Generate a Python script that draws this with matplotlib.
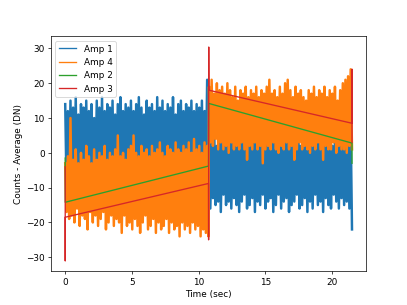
import numpy as np
import matplotlib
matplotlib.use("Agg")
import matplotlib.pyplot as plt

# Sample times for the noisy traces (first and second ramp)
t_first = np.linspace(0.0, 10.74, 110)
t_second = np.linspace(10.78, 21.5, 110)

amp1_first = [14, -10, 12, -8, 15, -11, 13, -9, 16, -12, 11, -10, 14, -7, 13, -11, 15, -9, 12, -12,
              14, -8, 10, -10, 15, -11, 13, -9, 16, -10, 12, -12, 14, -8, 13, -11, 15, -9, 11, -10,
              14, -12, 16, -8, 12, -11, 14, -9, 13, -10, 15, -12, 12, -8, 14, -11, 16, -9, 13, -10,
              11, -12, 15, -8, 13, -11, 14, -9, 12, -10, 16, -12, 13, -8, 15, -11, 12, -9, 14, -10,
              13, -12, 16, -8, 11, -11, 14, -9, 15, -10, 12, -12, 14, -8, 13, -11, 15, -9, 12, -10,
              14, -12, 13, -8, 15, -11, 12, -9, 21, -10]
amp1_second = [5, -16, 3, -13, 6, -15, 2, -14, 4, -17, 3, -12, 5, -15, 2, -14, 4, -16, 3, -13,
               6, -15, 2, -17, 4, -14, 3, -12, 5, -16, 2, -15, 4, -13, 3, -17, 5, -14, 2, -15,
               4, -12, 3, -16, 6, -14, 2, -13, 4, -17, 3, -15, 5, -12, 2, -16, 4, -14, 3, -13,
               5, -17, 2, -15, 4, -14, 3, -12, 6, -16, 2, -15, 4, -13, 3, -17, 5, -14, 2, -16,
               4, -12, 3, -15, 5, -14, 2, -17, 4, -13, 3, -15, 6, -16, 2, -12, 4, -14, 3, -16,
               5, -13, 2, -15, 4, -14, 6, -16, 8, -22]

amp4_first = [-3, -17, -1, -19, 10, -18, -2, -20, 1, -16, -3, -21, 0, -18, -2, -19, 2, -22, -1, -17,
              -3, -20, 1, -18, -2, -21, 0, -19, -1, -17, 2, -22, -2, -20, 0, -18, -1, -21, 1, -19,
              5, -20, -1, -23, 0, -18, -2, -21, 1, -20, 2, -22, 5, -19, 0, -21, -1, -23, 2, -20,
              0, -18, 1, -22, -1, -21, 2, -19, 0, -23, 1, -20, 3, -22, 0, -21, -1, -19, 2, -23,
              1, -20, 0, -22, 3, -21, 1, -24, 0, -20, 2, -22, 1, -21, 3, -23, 0, -20, 4, -22,
              1, -21, 2, -24, 0, -22, 3, -23, 2, -24]
amp4_second = [19, 3, 21, 2, 17, 4, 20, 1, 18, 3, 19, 1, 17, 2, 20, 0, 18, 3, 16, 1,
               19, 2, 15, 1, 18, 3, 17, 1, 19, -2, 16, 2, 18, 1, 17, 3, 19, 1, 16, 2,
               18, -3, 17, 1, 19, 2, 21, 1, 17, 3, 18, 1, 16, 0, 19, 2, 17, 1, 20, 3,
               21, 1, 18, 2, 16, -2, 19, 1, 17, 3, 18, 1, 16, 2, 15, 1, 18, 0, 17, 2,
               19, 1, 16, 3, 18, 1, 17, -2, 19, 2, 16, 1, 18, 1, 17, 3, 19, 0, 15, 2,
               18, 1, 20, 1, 21, 0, 22, 2, 24, 1]

# Amp 2 (green) and Amp 3 (red) ramps with their transients
amp2_t = [0.0, 0.0, 10.74, 10.76, 21.5, 21.5]
amp2_v = [-1.5, -14.2, -3.8, 14.2, 2.8, -3.0]
amp3_t = [0.0, 0.0, 0.0, 10.74, 10.75, 10.76, 10.77, 21.5, 21.5, 21.5]
amp3_v = [-4.0, -31.0, -18.5, -8.8, -25.0, 30.4, 18.0, 8.5, 24.0, 3.0]

t_all = np.concatenate([t_first, t_second])
amp1 = np.array(amp1_first + amp1_second, dtype=float)
amp4 = np.array(amp4_first + amp4_second, dtype=float)

fig, ax = plt.subplots(figsize=(6.4, 4.8), dpi=63.6)
ax.plot(t_all, amp1, color="C0", lw=2.8, label="Amp 1")
ax.plot(t_all, amp4, color="C1", lw=2.8, label="Amp 4")
ax.plot(amp2_t, amp2_v, color="C2", label="Amp 2")
ax.plot(amp3_t, amp3_v, color="C3", label="Amp 3")
ax.set_xlabel("Time (sec)")
ax.set_ylabel("Counts - Average (DN)")
leg = ax.legend(loc="upper left")
for line in leg.get_lines():
    line.set_linewidth(1.5)
fig.savefig("out.png", dpi=63.6)
